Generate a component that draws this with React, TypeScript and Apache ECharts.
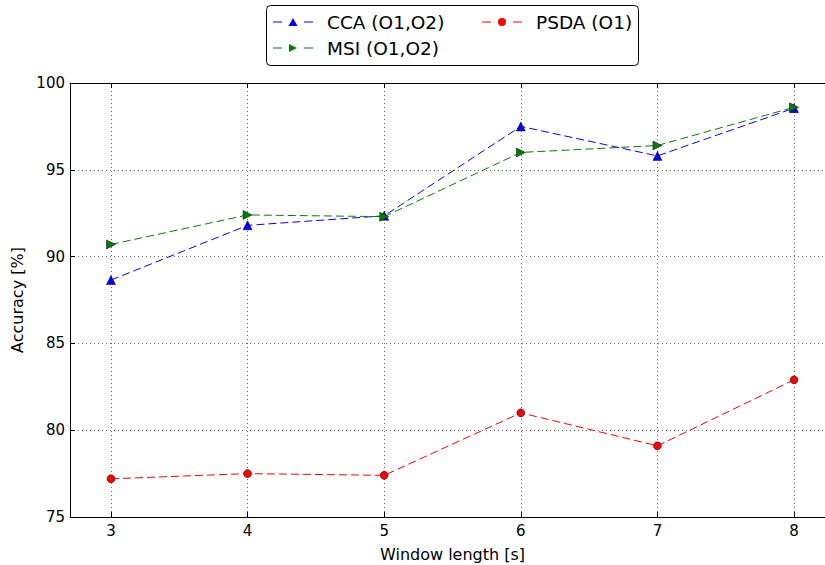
import React, { useEffect, useRef } from "react";
import * as echarts from "echarts";

const windowLengths = [3, 4, 5, 6, 7, 8];
const ccaValues = [88.65, 91.8, 92.35, 97.5, 95.8, 98.55];
const msiValues = [90.7, 92.4, 92.3, 96.0, 96.4, 98.6];
const psdaValues = [77.2, 77.5, 77.4, 81.0, 79.1, 82.9];
const seriesNames = ["CCA (O1,O2)", "MSI (O1,O2)", "PSDA (O1)"];
const xTickValues = [3, 4, 5, 6, 7, 8];

const FONT = "DejaVu Sans";

const dash1 = "M0,4.4h9v1.2h-9z";
const dash2 = "M31,4.4h9v1.2h-9z";
const iconTri = "path://" + dash1 + "M15.5,9L20,1L24.5,9Z" + dash2;
const iconRight = "path://" + dash1 + "M16,1L24,5L16,9Z" + dash2;
const iconCircle =
  "path://" + dash1 + "M16,5a4,4 0 1,0 8,0a4,4 0 1,0 -8,0Z" + dash2;

export default function App() {
  const ref = useRef<HTMLDivElement>(null);
  useEffect(() => {
    document.body.style.margin = "0";
    const chart = echarts.init(ref.current!, null, { renderer: "svg" });
    const pairs = (vals: number[]) => windowLengths.map((x, i) => [x, vals[i]]);
    const legendBase = {
      orient: "horizontal",
      padding: 0,
      itemWidth: 40,
      itemHeight: 9,
      selectedMode: false,
      itemStyle: { borderWidth: 0 },
      textStyle: {
        fontFamily: FONT,
        fontSize: 18.5,
        color: "#000",
        lineHeight: 20,
        padding: [0, 0, 0, 9],
      },
    };
    const axisLbl = { fontFamily: FONT, fontSize: 15, color: "#000" };
    const nameLbl = { fontFamily: FONT, fontSize: 16, color: "#000" };
    chart.setOption({
      animation: false,
      backgroundColor: "#fff",
      grid: {
        left: 70,
        top: 83,
        width: 765,
        height: 434,
        containLabel: false,
        outerBoundsMode: "none",
      },
      legend: [
        { ...legendBase, left: 273, top: 12, data: [{ name: seriesNames[0], icon: iconTri }] },
        { ...legendBase, left: 273, top: 38, data: [{ name: seriesNames[1], icon: iconRight }] },
        { ...legendBase, left: 482, top: 12, data: [{ name: seriesNames[2], icon: iconCircle }] },
      ],
      graphic: [
        {
          type: "rect",
          z: -10,
          shape: { x: 266.5, y: 5.5, width: 372, height: 60, r: 4 },
          style: { fill: "#fff", stroke: "#000", lineWidth: 1 },
        },
      ],
      xAxis: [
        {
          type: "value",
          min: 2.7,
          max: 8.3,
          name: "Window length [s]",
          nameLocation: "middle",
          nameGap: 29,
          nameTextStyle: nameLbl,
          axisLine: { show: true, onZero: false, lineStyle: { color: "#000", width: 1 } },
          axisTick: {
            show: true,
            inside: true,
            length: 5,
            customValues: xTickValues,
            lineStyle: { color: "#000" },
          },
          axisLabel: { ...axisLbl, margin: 6, customValues: xTickValues },
          splitLine: {
            show: true,
            lineStyle: { color: "#444", width: 0.8, type: [1, 3] },
          },
        },
        {
          type: "value",
          position: "top",
          min: 2.7,
          max: 8.3,
          axisLine: { show: true, onZero: false, lineStyle: { color: "#000", width: 1 } },
          axisTick: {
            show: true,
            inside: true,
            length: 5,
            customValues: xTickValues,
            lineStyle: { color: "#000" },
          },
          axisLabel: { show: false },
          splitLine: { show: false },
        },
      ],
      yAxis: [
        {
          type: "value",
          min: 75,
          max: 100,
          interval: 5,
          name: "Accuracy [%]",
          nameLocation: "middle",
          nameGap: 41,
          nameTextStyle: nameLbl,
          axisLine: { show: true, onZero: false, lineStyle: { color: "#000", width: 1 } },
          axisTick: { show: true, inside: true, length: 5, lineStyle: { color: "#000" } },
          axisLabel: { ...axisLbl, margin: 5 },
          splitLine: {
            show: true,
            lineStyle: { color: "#444", width: 0.8, type: [1, 3] },
          },
        },
        {
          type: "value",
          position: "right",
          min: 75,
          max: 100,
          interval: 5,
          axisLine: { show: true, onZero: false, lineStyle: { color: "#000", width: 1 } },
          axisTick: { show: true, inside: true, length: 5, lineStyle: { color: "#000" } },
          axisLabel: { show: false },
          splitLine: { show: false },
        },
      ],
      series: [
        {
          name: seriesNames[0],
          type: "line",
          data: pairs(ccaValues),
          symbol: "triangle",
          symbolSize: 9,
          itemStyle: { color: "#0000ff", borderColor: "#000", borderWidth: 0.5 },
          lineStyle: { color: "#0000ff", width: 1, type: [8, 4] },
          z: 3,
        },
        {
          name: seriesNames[1],
          type: "line",
          data: pairs(msiValues),
          symbol: "path://M0,0L10,5L0,10Z",
          symbolSize: 9,
          itemStyle: { color: "#008000", borderColor: "#000", borderWidth: 0.5 },
          lineStyle: { color: "#008000", width: 1, type: [8, 4] },
          z: 3,
        },
        {
          name: seriesNames[2],
          type: "line",
          data: pairs(psdaValues),
          symbol: "circle",
          symbolSize: 8,
          itemStyle: { color: "#ff0000", borderColor: "#000", borderWidth: 0.5 },
          lineStyle: { color: "#ff0000", width: 1, type: [8, 4] },
          z: 3,
        },
      ],
    });
    return () => chart.dispose();
  }, []);
  return <div ref={ref} style={{ width: 825, height: 565 }} />;
}
